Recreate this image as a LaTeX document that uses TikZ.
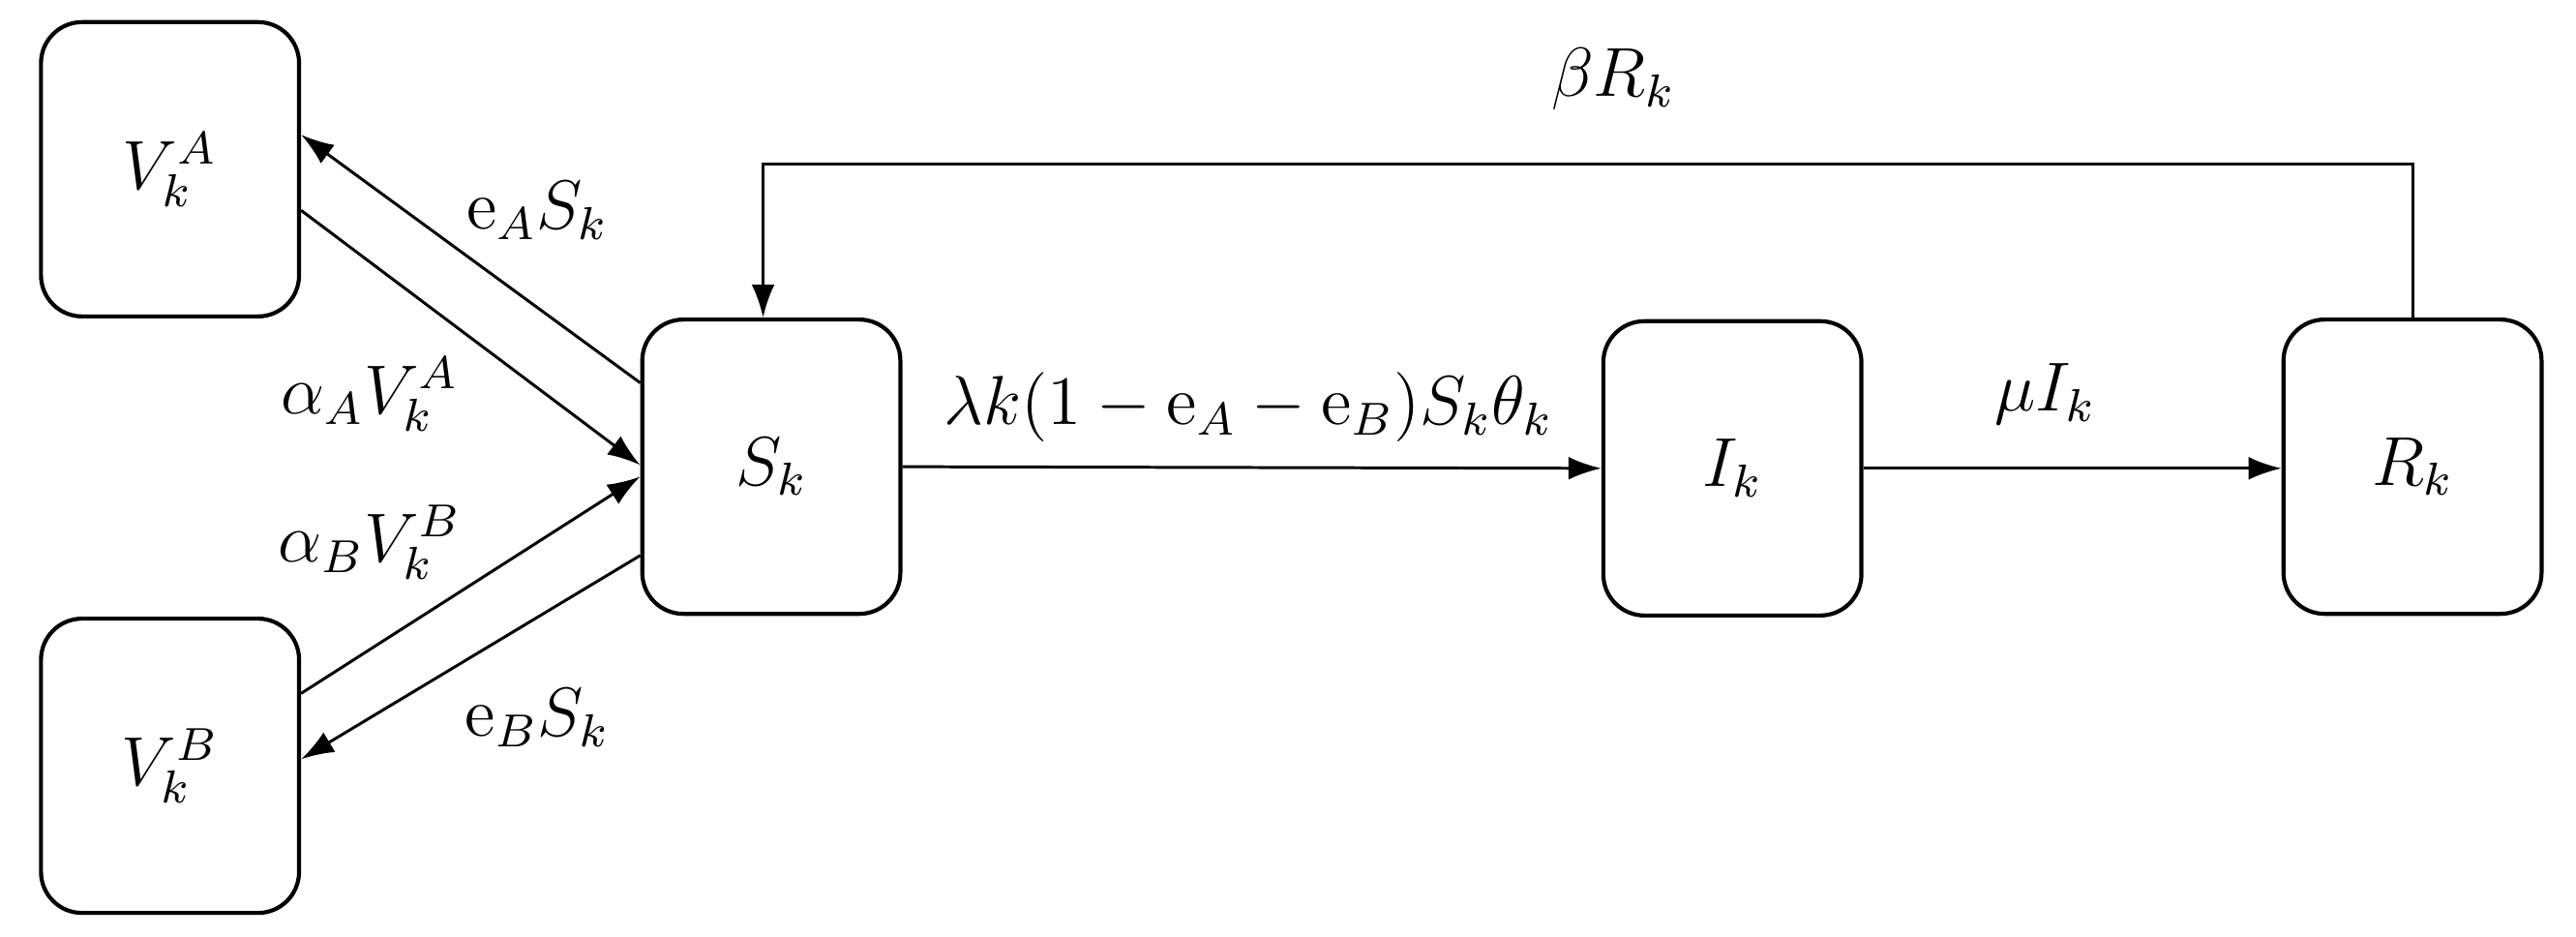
\documentclass[tikz,border=0pt]{standalone}
\usetikzlibrary{arrows.meta}
\begin{document}
\begin{tikzpicture}[x=0.01cm,y=-0.01cm,
  box/.style={draw,line width=0.7pt,rounded corners=0.25cm,minimum width=1.57cm,minimum height=1.79cm,font=\fontsize{12}{14}\selectfont},
  arr/.style={line width=0.5pt,-{Latex[length=0.2cm,width=0.14cm]}},
  lab/.style={font=\fontsize{12}{14}\selectfont}]
\useasboundingbox (0,0) rectangle (1568,570);
\node[box] (VA) at (103.5,103) {$V_k^A$};
\node[box] (VB) at (103.5,466) {$V_k^B$};
\node[box] (S) at (469.5,284) {$S_k$};
\node[box] (I) at (1054.5,285) {$I_k$};
\node[box] (R) at (1468.5,284) {$R_k$};
\draw[arr] ([yshift=0.51cm]S.west) -- ([yshift=0.21cm]VA.east);
\draw[arr] ([yshift=-0.25cm]VA.east) -- ([yshift=0.01cm]S.west);
\draw[arr] ([yshift=0.44cm]VB.east) -- ([yshift=-0.06cm]S.west);
\draw[arr] ([yshift=-0.54cm]S.west) -- ([yshift=0.04cm]VB.east);
\draw[arr] (S.east) -- (I.west);
\draw[arr] (I.east) -- (I.east-|R.west);
\coordinate (top) at (1000,100);
\draw[arr] (R.north) -- (R.north|-top) -- ([xshift=-0.05cm]S.north|-top) -- ([xshift=-0.05cm]S.north);
\node[lab] (l1) at (327,128) {$\mathrm{e}_A S_k$};
\node[lab] (l2) at (225,240) {$\alpha_A V_k^A$};
\node[lab] (l3) at (225,330) {$\alpha_B V_k^B$};
\node[lab] (l4) at (327,437) {$\mathrm{e}_B S_k$};
\node[lab] (l5) at (760,248) {$\lambda k(1-\mathrm{e}_A-\mathrm{e}_B)S_k\theta_k$};
\node[lab] (l6) at (1245,240) {$\mu I_k$};
\node[lab] (l7) at (982,48) {$\beta R_k$};
\end{tikzpicture}
\end{document}
